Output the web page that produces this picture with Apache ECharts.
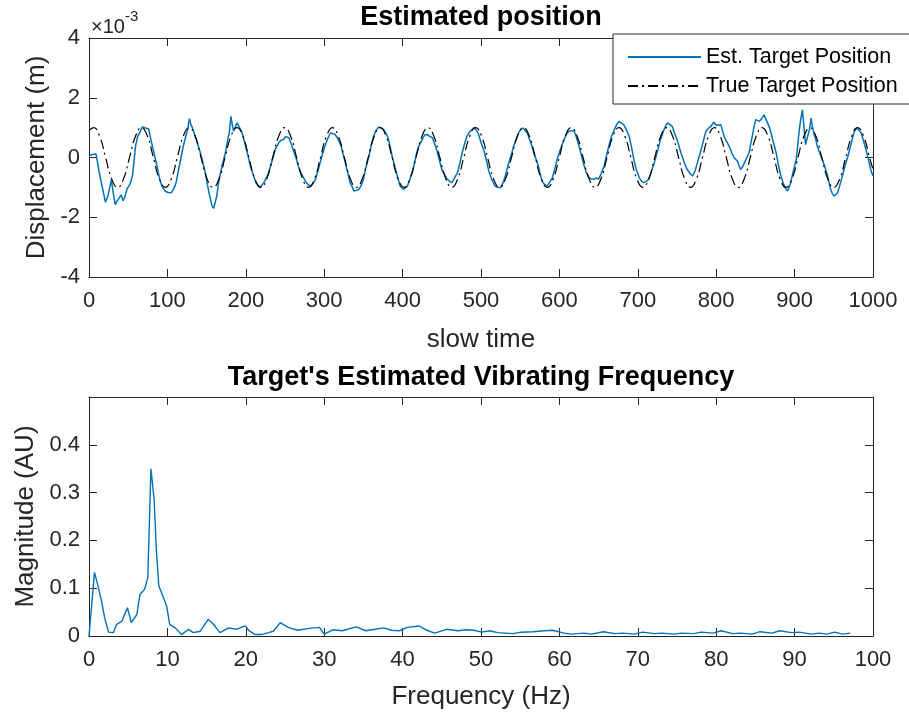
<!DOCTYPE html>
<html>
<head>
<meta charset="utf-8">
<script src="https://cdn.jsdelivr.net/npm/echarts@6/dist/echarts.min.js"></script>
<style>html,body{margin:0;padding:0;background:#fff}#c{width:909px;height:717px}</style>
</head>
<body>
<div id="c"></div>
<script>
// Displacement values are in units of 1e-3 m (axis shows x10^-3)
const estPosition = [
[0,0.05],[4,0.1],[9,0.12],[11,0.15],[13,-0.5],[17,-1.0],[21,-1.5],[24,-1.3],[26.5,-1.0],[28.5,-0.75],[31,-1.2],[33.5,-1.58],[36,-1.45],[38.5,-1.35],[41,-1.25],[43.5,-1.45],[46,-1.3],[48.5,-1.05],[51,-0.95],[53,-0.85],[55.5,-0.6],[57.5,-0.1],[59.5,0.4],[62,0.7],[65,0.85],[68,1.02],[70,1.05],[73,0.98],[76,0.96],[79,0.6],[82,0.25],[86,-0.2],[90,-0.7],[93,-0.96],[97,-1.12],[101,-1.17],[105,-1.18],[108,-1.05],[111,-0.85],[114,-0.45],[117,-0.05],[120,0.35],[123,0.66],[126,0.95],[128,1.3],[130,1.1],[132,0.99],[135,0.75],[138,0.5],[142,0.16],[145,-0.15],[148,-0.46],[151,-0.9],[154,-1.3],[157,-1.62],[159,-1.7],[161,-1.5],[163,-1.29],[165,-0.9],[167,-0.6],[170,-0.25],[174,0.16],[177,0.6],[179,0.85],[181,1.38],[183,1.05],[184.5,0.88],[187,1.05],[189,1.16],[191,1.05],[193,1.04],[195,0.85],[197,0.66],[200,0.35],[203,0.04],[206,-0.3],[210,-0.62],[213,-0.85],[216,-0.96],[219,-0.98],[223,-0.84],[226,-0.7],[229,-0.51],[232,-0.25],[235,0.04],[238,0.3],[242,0.49],[245,0.58],[248,0.6],[251,0.7],[255,0.66],[258,0.45],[261,0.21],[264,0],[267,-0.29],[271,-0.55],[276,-0.79],[279,-0.9],[282,-0.96],[285,-0.9],[289,-0.73],[293,-0.35],[297,0.04],[300,0.3],[303,0.54],[306,0.72],[308,0.82],[311,0.8],[314,0.77],[317,0.65],[321,0.43],[324,0.12],[327,-0.18],[330,-0.5],[333,-0.84],[336,-1.0],[338,-1.12],[341,-1.1],[344,-1.07],[347,-0.95],[350,-0.73],[353,-0.35],[357,0.04],[360,0.4],[363,0.71],[366,0.9],[369.5,1.02],[373,0.99],[376,0.93],
[378,0.93],[381,0.7],[384,0.38],[387,0.0],[391,-0.4],[394,-0.7],[397,-0.96],[401,-1.07],[403.5,-1.05],[406,-0.96],[409,-0.75],[412,-0.51],[415,-0.2],[418,0.16],[421,0.4],[425,0.6],[428,0.75],[431,0.77],[434,0.72],[438,0.66],[441,0.45],[444,0.21],[447,-0.1],[450,-0.4],[454,-0.6],[457,-0.73],[460,-0.8],[463,-0.84],[466,-0.7],[470,-0.51],[473,-0.2],[476,0.16],[479,0.45],[482,0.71],[486,0.88],[491,0.99],[494,0.92],[497,0.77],[500,0.5],[504,0.21],[507,-0.1],[510,-0.46],[514,-0.75],[518,-0.96],[521,-1.0],[525,-1.01],[528,-0.85],[531,-0.62],[534,-0.3],[538,0.04],[542,0.4],[546,0.71],[549,0.88],[553,0.99],[556,0.92],[559,0.82],[562,0.6],[565,0.38],[568,0.1],[572,-0.18],[575,-0.5],[578,-0.79],[581,-0.9],[584,-0.96],[587,-0.85],[591,-0.68],[594,-0.4],[597,-0.07],[601,0.25],[606,0.6],[609,0.78],[612,0.88],[616,0.9],[619,0.88],[622,0.65],[625,0.38],[628,0.08],[631,-0.23],[634,-0.48],[638,-0.68],[641,-0.72],[644,-0.73],[647,-0.68],[650,-0.73],[653,-0.55],[657,-0.29],[660,0.05],[663,0.38],[666,0.68],[670,0.93],[673,1.1],[676,1.21],[679,1.15],[682,1.1],[685,0.95],[689,0.71],[692,0.35],[695,-0.07],[698,-0.4],[702,-0.68],[705,-0.8],[708,-0.84],[711,-0.8],[714,-0.73],[717,-0.5],[721,-0.18],[725,0.2],[729,0.6],[733,0.9],[736,1.08],[738,1.16],[741,1.1],[744,1.04],
[747,0.8],[750,0.6],[755,0.16],[759,-0.15],[763,-0.4],[767,-0.55],[770,-0.62],[773,-0.45],[776,-0.18],[779,0.1],[782,0.38],[785,0.7],[787,0.88],[790,0.98],[793,1.04],[797,1.18],[800,1.08],[802,1.04],[806,1.1],[808,0.9],[810,0.71],[813,0.55],[816.5,0.38],[820,0.15],[823,-0.01],[827,-0.12],[831,-0.4],[834,-0.3],[836,-0.18],[839,0.0],[842,0.16],[844,0.45],[846,0.71],[848,1.0],[850.5,1.27],[853,1.22],[855,1.21],[858,1.3],[861,1.43],[863,1.3],[865.5,1.16],[868,1.0],[870,0.82],[873,0.5],[876,0.21],[879,-0.2],[882.5,-0.62],[886,-0.9],[889,-1.05],[891,-1.12],[893,-1.0],[895,-0.84],[898,-0.5],[902,-0.07],[904,0.4],[906,0.93],[908,1.3],[910,1.6],[912,1.0],[914,0.43],[916,0.65],[919,0.93],[921,1.32],[923,1.0],[925,0.77],[927,0.6],[929,0.38],[932,0.15],[936,-0.12],[939,-0.35],[942,-0.62],[944,-0.85],[946,-1.07],[948,-1.2],[950.5,-1.29],[953,-1.25],[955,-1.18],[958,-0.9],[961,-0.62],[964,-0.3],[968,0.04],[971,0.35],[974,0.66],[976,0.85],[978,0.96],[981,0.95],[985,0.82],[988,0.55],[991,0.27],[994,-0.05],[997,-0.4],[1000,-0.62]
];
const truePosition = [
[0,0.9],[6,1],[13.6,0.71],[21.2,0],[28.8,-0.71],[36.5,-1],[44.1,-0.71],[51.7,0],[59.3,0.71],
[66.9,1],[74.5,0.71],[82.1,0],[89.7,-0.71],[97.4,-1],[105,-0.71],[112.6,0],[120.2,0.71],
[127.8,1],[135.4,0.71],[143,0],[150.6,-0.71],[158.3,-1],[165.9,-0.71],[173.5,0],[181.1,0.71],
[188.7,1],[196.3,0.71],[203.9,0],[211.5,-0.71],[219.2,-1],[226.8,-0.71],[234.4,0],[242,0.71],
[249.6,1],[257.2,0.71],[264.8,0],[272.4,-0.71],[280.1,-1],[287.7,-0.71],[295.3,0],[302.9,0.71],
[310.5,1],[318.1,0.71],[325.7,0],[333.3,-0.71],[341,-1],[348.6,-0.71],[356.2,0],[363.8,0.71],
[371.4,1],[379,0.71],[386.6,0],[394.2,-0.71],[401.9,-1],[409.5,-0.71],[417.1,0],[424.7,0.71],
[432.3,1],[439.9,0.71],[447.5,0],[455.1,-0.71],[462.8,-1],[470.4,-0.71],[478,0],[485.6,0.71],
[493.2,1],[500.8,0.71],[508.4,0],[516,-0.71],[523.7,-1],[531.3,-0.71],[538.9,0],[546.5,0.71],
[554.1,1],[561.7,0.71],[569.3,0],[576.9,-0.71],[584.6,-1],[592.2,-0.71],[599.8,0],[607.4,0.71],
[615,1],[622.6,0.71],[630.2,0],[637.8,-0.71],[645.5,-1],[653.1,-0.71],[660.7,0],[668.3,0.71],
[675.9,1],[683.5,0.71],[691.1,0],[698.7,-0.71],[706.4,-1],[714,-0.71],[721.6,0],[729.2,0.71],
[736.8,1],[744.4,0.71],[752,0],[759.6,-0.71],[767.3,-1],[774.9,-0.71],[782.5,0],[790.1,0.71],
[797.7,1],[805.3,0.71],[812.9,0],[820.5,-0.71],[828.2,-1],[835.8,-0.71],[843.4,0],[851,0.71],
[858.6,1],[866.2,0.71],[873.8,0],[881.4,-0.71],[889.1,-1],[896.7,-0.71],[904.3,0],[911.9,0.71],
[919.5,1],[927.1,0.71],[934.7,0],[942.3,-0.71],[950,-1],[957.6,-0.71],[965.2,0],[972.8,0.71],
[980.4,1],[988,0.71],[995.6,0],[1000,-0.41]
];
const spectrum = [
[0,0.0],[0.7,0.133],[1.1,0.108],[1.6,0.073],[2.0,0.038],[2.5,0.008],[3.1,0.007],[3.5,0.024],[4.2,0.031],[4.9,0.059],[5.4,0.028],[6.1,0.045],[6.5,0.087],[7.1,0.098],[7.5,0.122],[7.9,0.35],[8.3,0.287],[8.6,0.178],[8.9,0.105],[9.5,0.08],[9.9,0.063],[10.3,0.024],[11.0,0.017],[11.8,0.003],[12.7,0.014],[13.3,0.007],[14.2,0.01],[15.2,0.035],[15.9,0.024],[16.7,0.007],[17.8,0.017],[18.8,0.014],[19.9,0.021],[20.5,0.01],[21.2,0.003],[22.0,0.003],[22.9,0.007],[23.5,0.01],[24.4,0.028],[25.4,0.018],[26.6,0.012],[28.1,0.016],[29.4,0.018],[30.0,0.004],[31.1,0.013],[32.3,0.011],[34.1,0.019],[35.3,0.011],[36.5,0.014],[37.6,0.017],[38.6,0.012],[39.6,0.011],[40.6,0.018],[42.1,0.021],[43.1,0.012],[44.1,0.006],[45.6,0.014],[47.1,0.011],[48.1,0.013],[49.1,0.012],[50.1,0.008],[51.1,0.011],[52.1,0.007],[53.1,0.006],[54.1,0.005],[55.1,0.008],[56.6,0.009],[58.1,0.011],[59.1,0.012],[60.6,0.006],[61.6,0.004],[63.1,0.006],[64.1,0.004],[65.6,0.009],[67.1,0.005],[68.1,0.006],[69.6,0.004],[70.6,0.008],[72.1,0.005],[73.1,0.006],[74.6,0.004],[75.6,0.006],[77.1,0.005],[78.1,0.008],[79.6,0.006],[80.6,0.011],[82.1,0.005],[83.1,0.006],[84.6,0.004],[85.6,0.009],[87.1,0.006],[88.1,0.011],[89.6,0.007],[90.6,0.008],[92.1,0.004],[93.1,0.006],[94.1,0.004],[95.1,0.008],[96.1,0.004],[97.1,0.006]
];
const seriesNames = ['Est. Target Position', 'True Target Position'];
const titles = ['Estimated position', "Target's Estimated Vibrating Frequency"];
const axisNames = ['slow time', 'Displacement (m)', 'Frequency (Hz)', 'Magnitude (AU)'];
const topX = {min: 0, max: 1000, interval: 100};
const topY = {min: -4, max: 4, interval: 2};
const botX = {min: 0, max: 100, interval: 10};
const botY = {min: 0, max: 0.5, interval: 0.1};

const FONT = 'Liberation Sans, Arial, Helvetica, sans-serif';
const AX = '#262626';
const TICK_FS = 22, NAME_FS = 26, TITLE_FS = 27;
function axisBase(extra) {
  return Object.assign({
    type: 'value',
    axisLine: {show: true, onZero: false, lineStyle: {color: AX, width: 1}},
    axisTick: {show: true, inside: true, length: 8, lineStyle: {color: AX, width: 1}},
    splitLine: {show: false},
    axisLabel: {color: AX, fontSize: TICK_FS, fontFamily: FONT},
    nameTextStyle: {color: AX, fontSize: NAME_FS, fontFamily: FONT}
  }, extra);
}
function mirror(extra) {
  const a = axisBase(extra);
  a.axisLabel = {show: false};
  return a;
}
const plainNum = v => String(v);

const chart = echarts.init(document.getElementById('c'));
chart.setOption({
  animation: false,
  backgroundColor: '#fff',
  title: [
    {text: titles[0], left: 481, top: 4, textAlign: 'center', padding: 0,
     textStyle: {fontSize: TITLE_FS, fontWeight: 'bold', color: '#000', fontFamily: FONT}},
    {text: titles[1], left: 481, top: 364, textAlign: 'center', padding: 0,
     textStyle: {fontSize: TITLE_FS, fontWeight: 'bold', color: '#000', fontFamily: FONT}}
  ],
  grid: [
    {left: 89, top: 38, width: 784, height: 239},
    {left: 89, top: 397, width: 784, height: 239}
  ],
  xAxis: [
    axisBase(Object.assign({gridIndex: 0, position: 'bottom', name: axisNames[0], nameLocation: 'middle', nameGap: 50,
      axisLabel: {color: AX, fontSize: TICK_FS, fontFamily: FONT, margin: 13, formatter: plainNum}}, topX)),
    mirror(Object.assign({gridIndex: 0, position: 'top'}, topX)),
    axisBase(Object.assign({gridIndex: 1, position: 'bottom', name: axisNames[2], nameLocation: 'middle', nameGap: 48,
      axisLabel: {color: AX, fontSize: TICK_FS, fontFamily: FONT, margin: 13, formatter: plainNum}}, botX)),
    mirror(Object.assign({gridIndex: 1, position: 'top'}, botX))
  ],
  yAxis: [
    axisBase(Object.assign({gridIndex: 0, position: 'left', name: axisNames[1], nameLocation: 'middle', nameGap: 33,
      axisLabel: {color: AX, fontSize: TICK_FS, fontFamily: FONT, margin: 9, formatter: plainNum}}, topY)),
    mirror(Object.assign({gridIndex: 0, position: 'right'}, topY)),
    axisBase(Object.assign({gridIndex: 1, position: 'left', name: axisNames[3], nameLocation: 'middle', nameGap: 49,
      axisLabel: {color: AX, fontSize: TICK_FS, fontFamily: FONT, margin: 9, showMaxLabel: false,
        formatter: v => (v >= 0.45 ? '' : (v === 0 ? '0' : v.toFixed(1)))}}, botY)),
    mirror(Object.assign({gridIndex: 1, position: 'right'}, botY))
  ],
  legend: {
    orient: 'vertical', left: 613, top: 34,
    itemWidth: 73, itemHeight: 14, itemGap: 7,
    padding: [12, 12, 7, 14],
    borderColor: AX, borderWidth: 1, backgroundColor: '#fff',
    textStyle: {fontSize: 21.5, color: '#000', fontFamily: FONT},
    itemStyle: {color: 'rgba(0,0,0,0)', borderColor: 'rgba(0,0,0,0)', borderWidth: 0, opacity: 0},
    data: seriesNames
  },
  graphic: [{
    type: 'text', left: 91, top: 9,
    style: {
      text: '{a|×10}{b|-3}',
      rich: {
        a: {fontSize: 20, fontFamily: FONT, fill: AX, verticalAlign: 'bottom', padding: [8, 0, 0, 0]},
        b: {fontSize: 15, fontFamily: FONT, fill: AX, verticalAlign: 'top'}
      }
    }
  }],
  series: [
    {name: seriesNames[0], type: 'line', xAxisIndex: 0, yAxisIndex: 0, data: estPosition,
     showSymbol: false, symbol: 'none', lineStyle: {color: '#0072BD', width: 1.5}, itemStyle: {color: '#0072BD'}, z: 2},
    {name: seriesNames[1], type: 'line', xAxisIndex: 0, yAxisIndex: 0, data: truePosition, smooth: 0.5,
     showSymbol: false, symbol: 'none', lineStyle: {color: '#000', width: 1.2, type: [10, 4, 2, 4]}, itemStyle: {color: '#000'}, z: 3},
    {name: 'spectrum', type: 'line', xAxisIndex: 2, yAxisIndex: 2, data: spectrum,
     showSymbol: false, symbol: 'none', lineStyle: {color: '#0072BD', width: 1.4}, itemStyle: {color: '#0072BD'}}
  ]
});
</script>
</body>
</html>
